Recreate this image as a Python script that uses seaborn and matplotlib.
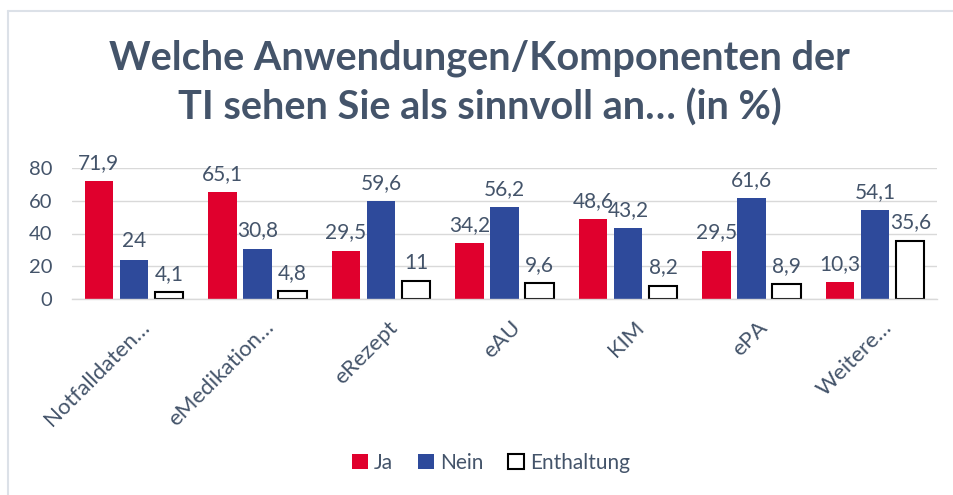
import matplotlib
matplotlib.use("Agg")
import matplotlib.pyplot as plt
import matplotlib.transforms as mtransforms
import seaborn as sns
import pandas as pd
from matplotlib.lines import Line2D
from matplotlib.patches import Patch

categories = ["Notfalldaten…", "eMedikation…", "eRezept", "eAU", "KIM", "ePA", "Weitere…"]
ja = [71.9, 65.1, 29.5, 34.2, 48.6, 29.5, 10.3]
nein = [24, 30.8, 59.6, 56.2, 43.2, 61.6, 54.1]
enthaltung = [4.1, 4.8, 11, 9.6, 8.2, 8.9, 35.6]
series = ["Ja", "Nein", "Enthaltung"]
yticks = [0, 20, 40, 60, 80]
title = "Welche Anwendungen/Komponenten der\nTI sehen Sie als sinnvoll an… (in %)"

rows = []
for s, vals in zip(series, [ja, nein, enthaltung]):
    for c, v in zip(categories, vals):
        rows.append({"Kategorie": c, "Serie": s, "Wert": v})
df = pd.DataFrame(rows)

sns.set_theme(style="white")
plt.rcParams["font.family"] = ["Lato", "DejaVu Sans"]
TXT = "#44546A"

fig = plt.figure(figsize=(9.54, 4.95), dpi=100)
ax = fig.add_axes([72 / 954, 1 - 299 / 495, 865 / 954, 131 / 495])

palette = {"Ja": "#E0002D", "Nein": "#2E4A9B", "Enthaltung": "#FFFFFF"}
sns.barplot(data=df, x="Kategorie", y="Wert", hue="Serie", order=categories,
            hue_order=series, palette=palette, width=0.85, gap=0.185, ax=ax,
            legend=False, saturation=1)

for cont, s in zip(ax.containers, series):
    for p in cont:
        if s == "Enthaltung":
            p.set_edgecolor("black")
            p.set_linewidth(1.5)
        else:
            p.set_edgecolor("none")
    vals = {"Ja": ja, "Nein": nein, "Enthaltung": enthaltung}[s]
    labels = [("%g" % v).replace(".", ",") for v in vals]
    ax.bar_label(cont, labels=labels, padding=6, fontsize=15, color=TXT)

ax.set_ylim(0, 80)
ax.set_xlim(-0.5, 6.5)
ax.set_yticks(yticks)
ax.set_yticklabels([str(t) for t in yticks], fontsize=14.5, color=TXT)
ax.yaxis.grid(True, color="#D9D9D9", linewidth=1)
ax.set_axisbelow(True)
for sp in ["top", "right", "left"]:
    ax.spines[sp].set_visible(False)
ax.spines["bottom"].set_color("#D9D9D9")
ax.spines["bottom"].set_linewidth(1)
ax.tick_params(axis="y", length=0, pad=14)
ax.tick_params(axis="x", length=0, pad=13)
ax.set_xlabel("")
ax.set_ylabel("")
offset = mtransforms.ScaledTranslation(6 / 100, 0, fig.dpi_scale_trans)
for lbl in ax.get_xticklabels():
    lbl.set_rotation(45)
    lbl.set_ha("right")
    lbl.set_rotation_mode("anchor")
    lbl.set_fontsize(16)
    lbl.set_color(TXT)
    lbl.set_transform(lbl.get_transform() + offset)

fig.text(0.503, 1 - 83 / 495, title, ha="center", va="center", fontsize=28.5,
         fontweight="bold", color=TXT, linespacing=1.36)

handles = [Patch(facecolor=palette[s], edgecolor=("black" if s == "Enthaltung" else "none"),
                 linewidth=1.5) for s in series]
leg = fig.legend(handles, series, loc="center", bbox_to_anchor=(0.515, 1 - 463 / 495),
                 ncol=3, frameon=False, fontsize=15, handlelength=0.75, handleheight=0.75,
                 handletextpad=0.3, columnspacing=1.2)
for t in leg.get_texts():
    t.set_color(TXT)

fig.add_artist(Line2D([8 / 954, 1], [1 - 11 / 495] * 2, transform=fig.transFigure,
                      color="#DCE1E8", linewidth=1.5))
fig.add_artist(Line2D([8 / 954] * 2, [0, 1 - 11 / 495], transform=fig.transFigure,
                      color="#DCE1E8", linewidth=1.5))

fig.savefig("out.png", dpi=100)
